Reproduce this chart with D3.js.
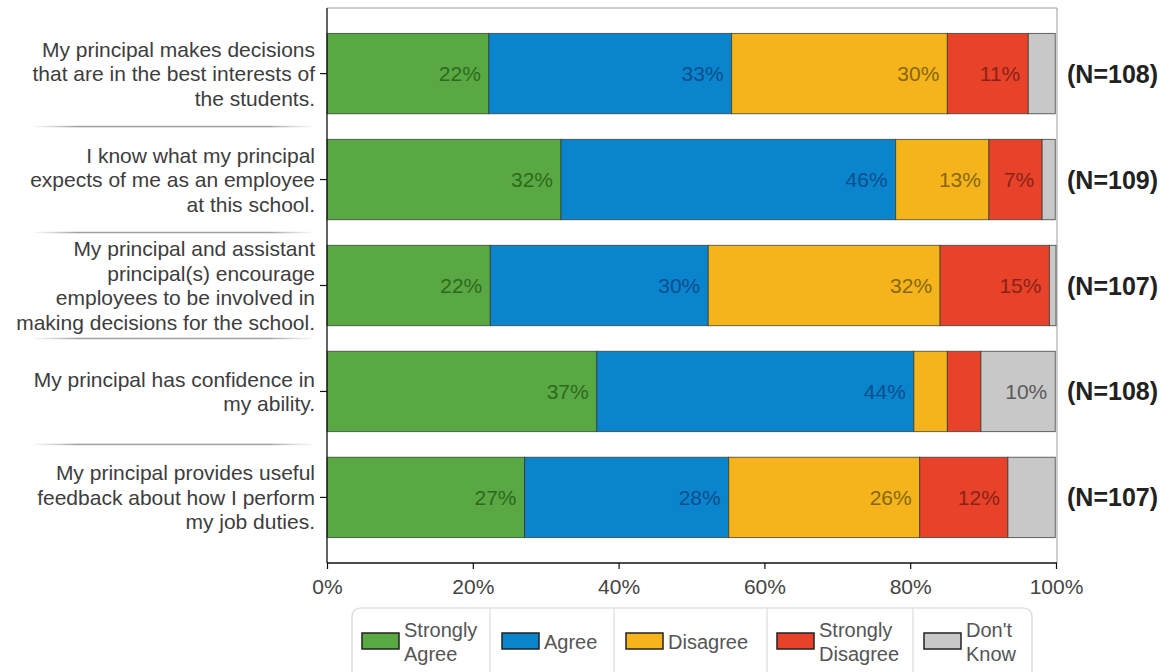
<!DOCTYPE html>
<html>
<head>
<meta charset="utf-8">
<script src="https://cdn.jsdelivr.net/npm/d3@7"></script>
<style>
  html, body { margin: 0; padding: 0; background: #fff; }
  svg { display: block; font-family: "Liberation Sans", Arial, Helvetica, sans-serif; }
</style>
</head>
<body>
<svg id="chart" width="1173" height="672"></svg>
<script>
// ---------------- data ----------------
const categories = [
  "My principal makes decisions\nthat are in the best interests of\nthe students.",
  "I know what my principal\nexpects of me as an employee\nat this school.",
  "My principal and assistant\nprincipal(s) encourage\nemployees to be involved in\nmaking decisions for the school.",
  "My principal has confidence in\nmy ability.",
  "My principal provides useful\nfeedback about how I perform\nmy job duties."
];
const nLabels = ["(N=108)", "(N=109)", "(N=107)", "(N=108)", "(N=107)"];
const seriesNames = ["Strongly Agree", "Agree", "Disagree", "Strongly Disagree", "Don't Know"];
const legendLabels = ["Strongly\nAgree", "Agree", "Disagree", "Strongly\nDisagree", "Don't\nKnow"];
const stronglyAgree    = [22.2, 32.1, 22.4, 37.0, 27.1];
const agree            = [33.3, 45.9, 29.9, 43.5, 28.0];
const disagree         = [29.6, 12.8, 31.8, 4.6, 26.2];
const stronglyDisagree = [11.1, 7.3, 15.0, 4.6, 12.1];
const dontKnow         = [3.7, 1.8, 0.9, 10.2, 6.5];
const tickValues = [0, 20, 40, 60, 80, 100];
const tickLabels = ["0%", "20%", "40%", "60%", "80%", "100%"];

// ---------------- styles ----------------
const fills = ["#5aa843", "#0a84cc", "#f5b41b", "#e8432a", "#c8c8c8"];
const textColors = ["#2d6a1d", "#0b4f8c", "#876710", "#8a2214", "#5a5a5a"];
const FS = 21;

const svg = d3.select("#chart");
const plotL = 327, plotR = 1056, plotT = 8, plotB = 563;

const x = d3.scaleLinear().domain([0, 100]).range([plotL, plotR]);
const y = d3.scaleBand().domain(d3.range(categories.length))
  .range([plotT, plotB]).paddingInner(0.242).paddingOuter(0.24);

const seriesData = [stronglyAgree, agree, disagree, stronglyDisagree, dontKnow];
const rows = categories.map((c, i) => {
  const obj = { i };
  seriesNames.forEach((s, k) => obj[s] = seriesData[k][i]);
  return obj;
});
const stack = d3.stack().keys(seriesNames)(rows);

// frame top/right (gray)
svg.append("line").attr("x1", plotL).attr("x2", plotR + 1).attr("y1", plotT).attr("y2", plotT)
  .attr("stroke", "#9a9a9a").attr("stroke-width", 1);
svg.append("line").attr("x1", plotR + 1).attr("x2", plotR + 1).attr("y1", plotT).attr("y2", plotB)
  .attr("stroke", "#9a9a9a").attr("stroke-width", 1);

// bars
const g = svg.append("g");
stack.forEach((layer, k) => {
  g.selectAll(null).data(layer).enter().append("rect")
    .attr("x", d => x(d[0]))
    .attr("width", d => x(d[1]) - x(d[0]))
    .attr("y", (d, i) => y(i))
    .attr("height", y.bandwidth())
    .attr("fill", fills[k])
    .attr("stroke", "#2f3a2f").attr("stroke-opacity", 0.75).attr("stroke-width", 1);
});
// value labels
stack.forEach((layer, k) => {
  g.selectAll(null).data(layer.filter(d => d[1] - d[0] >= 7)).enter().append("text")
    .attr("x", d => x(d[1]) - 8)
    .attr("y", d => y(d.data.i) + y.bandwidth() / 2)
    .attr("dy", "0.36em")
    .attr("text-anchor", "end")
    .attr("font-size", FS)
    .attr("fill", textColors[k])
    .text(d => Math.round(d[1] - d[0]) + "%");
});

// left spine & ticks
const yAxis = d3.axisLeft(y).tickSize(7).tickFormat("");
const ya = svg.append("g").attr("transform", `translate(${plotL},0)`).call(yAxis);
ya.select(".domain").attr("stroke", "#111").attr("stroke-width", 1.3)
  .attr("d", `M0,${plotT}V${plotB}`);
ya.selectAll(".tick line").attr("stroke", "#111").attr("stroke-width", 1.2);

// category labels
const lineH = 24.5;
categories.forEach((c, i) => {
  const lines = c.split("\n");
  const cy = y(i) + y.bandwidth() / 2;
  const t = svg.append("text").attr("text-anchor", "end").attr("font-size", FS).attr("fill", "#3d3d3d");
  lines.forEach((ln, j) => {
    t.append("tspan").attr("x", 315)
      .attr("y", cy + (j - (lines.length - 1) / 2) * lineH)
      .attr("dy", "0.36em").text(ln);
  });
});

// separator lines between category labels
const defs = svg.append("defs");
const grad = defs.append("linearGradient").attr("id", "sepGrad");
grad.append("stop").attr("offset", "0%").attr("stop-color", "#c8c8c8").attr("stop-opacity", 0.2);
grad.append("stop").attr("offset", "15%").attr("stop-color", "#a0a0a0");
grad.append("stop").attr("offset", "85%").attr("stop-color", "#a0a0a0");
grad.append("stop").attr("offset", "100%").attr("stop-color", "#c8c8c8").attr("stop-opacity", 0.2);
for (let i = 0; i < categories.length - 1; i++) {
  const sy = (y(i) + y.bandwidth() + y(i + 1)) / 2;
  svg.append("rect").attr("x", 35).attr("width", 276).attr("y", sy - 0.75).attr("height", 1.5)
    .attr("fill", "url(#sepGrad)");
}

// N labels
nLabels.forEach((n, i) => {
  svg.append("text").attr("x", 1067).attr("y", y(i) + y.bandwidth() / 2).attr("dy", "0.36em")
    .attr("font-size", 25).attr("font-weight", "bold").attr("fill", "#222").text(n);
});

// bottom axis
const xAxis = d3.axisBottom(x).tickValues(tickValues).tickSize(6)
  .tickFormat((d, i) => tickLabels[i]).tickPadding(10);
const xa = svg.append("g").attr("transform", `translate(0,${plotB})`).call(xAxis);
xa.select(".domain").attr("stroke", "#111").attr("stroke-width", 1.3)
  .attr("d", `M${plotL},0H${plotR + 1}`);
xa.selectAll(".tick line").attr("stroke", "#111").attr("stroke-width", 1.2);
xa.selectAll(".tick text").attr("font-size", FS).attr("fill", "#444")
  .attr("font-family", "'Liberation Sans', Arial, sans-serif");

// legend
const lg = svg.append("g");
lg.append("rect").attr("x", 352).attr("y", 608).attr("width", 680).attr("height", 72)
  .attr("rx", 8).attr("fill", "#fff").attr("stroke", "#d6d6d6").attr("stroke-width", 1.2);
const legX = [362, 502, 626, 777, 924];
const sepX = [490, 614, 767, 913];
sepX.forEach(sx => lg.append("line").attr("x1", sx).attr("x2", sx).attr("y1", 608).attr("y2", 672)
  .attr("stroke", "#dcdcdc").attr("stroke-width", 1.2));
legendLabels.forEach((lab, k) => {
  lg.append("rect").attr("x", legX[k]).attr("y", 633).attr("width", 37).attr("height", 16)
    .attr("fill", fills[k]).attr("stroke", "#222").attr("stroke-width", 1.5);
  const lines = lab.split("\n");
  const t = lg.append("text").attr("font-size", 20).attr("fill", "#555");
  lines.forEach((ln, j) => {
    t.append("tspan").attr("x", legX[k] + 42)
      .attr("y", 642 + (j - (lines.length - 1) / 2) * 24)
      .attr("dy", "0.36em").text(ln);
  });
});
</script>
</body>
</html>
